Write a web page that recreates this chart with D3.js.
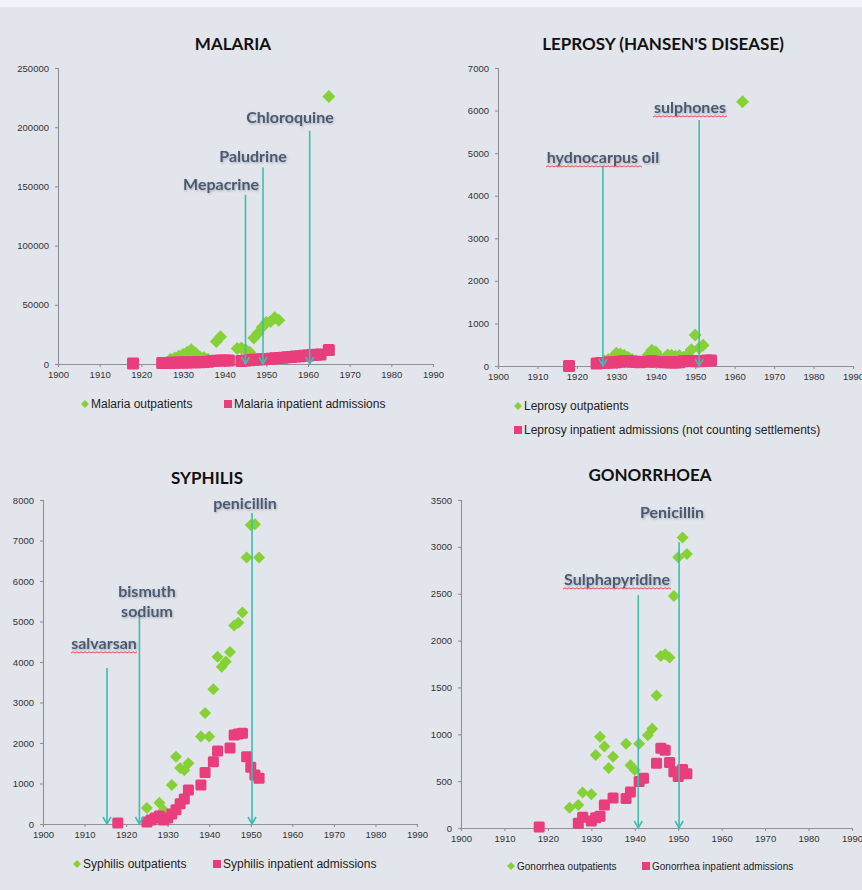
<!DOCTYPE html>
<html>
<head>
<meta charset="utf-8">
<script src="https://cdn.jsdelivr.net/npm/d3@7"></script>
<style>
  body { margin: 0; background: #e3e5ec; }
  svg { display: block; }
  .tick text { font-family: "Liberation Sans", Arial, sans-serif; fill: #333; }
</style>
</head>
<body>
<div id="chart"></div>
<script>
// ---- data ----
const decades = [1900, 1910, 1920, 1930, 1940, 1950, 1960, 1970, 1980, 1990];

// Malaria
const malariaOutYears = [1927, 1928, 1929, 1930, 1931, 1932, 1933, 1934, 1935, 1936, 1938, 1939, 1943, 1944, 1945, 1946, 1947, 1948, 1949, 1950, 1951, 1952, 1953, 1965];
const malariaOut = [4000, 5000, 6500, 8000, 10000, 12000, 9000, 6000, 5500, 4000, 19000, 23000, 13000, 13500, 12000, 10000, 22000, 26000, 31000, 35000, 36000, 39000, 37000, 226000];
const malariaInYears = [1918, 1925, 1926, 1927, 1928, 1929, 1930, 1931, 1932, 1933, 1934, 1935, 1936, 1937, 1938, 1939, 1940, 1941,
  1944, 1945, 1946, 1947, 1948, 1949, 1950, 1951, 1952, 1953, 1954, 1955, 1956, 1957, 1958, 1959, 1960, 1961, 1962, 1963, 1965];
const malariaIn = [500, 800, 900, 1000, 1100, 1200, 1200, 1300, 1400, 1500, 1500, 1600, 1800, 2500, 2800, 3000, 3000, 3000,
  2500, 3000, 3200, 3500, 3800, 4000, 4200, 4500, 4800, 5000, 5300, 5600, 6000, 6300, 6600, 7000, 7200, 7500, 7800, 8000, 11800];
const malariaDrugs = ["Mepacrine", "Paludrine", "Chloroquine"];
const malariaDrugYears = [1945, 1949.2, 1960.4];
const malariaDrugTops = [143000, 166000, 197000];

// Leprosy
const leprosyOutYears = [1927, 1928, 1929, 1930, 1931, 1932, 1933, 1934, 1935, 1938, 1939, 1940, 1941, 1943, 1944, 1945, 1946, 1947, 1948, 1949, 1950, 1951, 1952, 1962];
const leprosyOut = [120, 150, 180, 300, 280, 250, 200, 150, 120, 250, 370, 330, 200, 260, 250, 230, 240, 200, 260, 380, 730, 420, 490, 6210];
const leprosyInYears = [1918, 1925, 1926, 1927, 1928, 1929, 1930, 1931, 1932, 1933, 1934, 1935, 1936, 1938, 1939, 1940,
  1942, 1943, 1944, 1945, 1946, 1947, 1948, 1949, 1950, 1951, 1952, 1953, 1954];
const leprosyIn = [0, 60, 70, 70, 80, 80, 90, 100, 110, 110, 100, 100, 90, 100, 110, 100,
  90, 90, 80, 80, 90, 110, 120, 120, 110, 110, 120, 130, 130];
const leprosyDrugs = ["hydnocarpus oil", "sulphones"];
const leprosyDrugYears = [1926.6, 1951];
const leprosyDrugTops = [4700, 5780];

// Syphilis
const syphilisOutYears = [1925, 1928, 1929, 1931, 1932, 1933, 1934, 1935, 1938, 1939, 1940, 1941, 1942, 1943, 1944, 1945, 1946, 1947, 1948, 1949, 1950, 1951, 1952];
const syphilisOut = [395, 525, 345, 960, 1660, 1380, 1330, 1500, 2160, 2740, 2160, 3330, 4130, 3880, 4010, 4250, 4900, 4970, 5220, 6580, 7380, 7400, 6580];
const syphilisInYears = [1918, 1925, 1926, 1927, 1928, 1929, 1930, 1931, 1932, 1933, 1934, 1935, 1938, 1939, 1941, 1942, 1945, 1946, 1947, 1948, 1949, 1950, 1951, 1952];
const syphilisIn = [25, 50, 100, 150, 200, 100, 150, 250, 350, 500, 620, 840, 960, 1270, 1540, 1800, 1875, 2200, 2220, 2240, 1660, 1400, 1210, 1130];
const syphilisDrugs = ["salvarsan", "bismuth sodium", "penicillin"];
const syphilisDrugYears = [1915.4, 1923.2, 1950.3];
const syphilisDrugTops = [3850, 5200, 7680];

// Gonorrhoea
const gonorrhoeaOutYears = [1925, 1927, 1928, 1930, 1931, 1932, 1933, 1934, 1935, 1938, 1939, 1940, 1941, 1943, 1944, 1945, 1946, 1947, 1948, 1949, 1950, 1951, 1952];
const gonorrhoeaOut = [215, 245, 380, 360, 780, 975, 870, 640, 760, 900, 670, 620, 900, 990, 1060, 1415, 1835, 1855, 1820, 2475, 2890, 3100, 2925];
const gonorrhoeaInYears = [1918, 1927, 1928, 1930, 1931, 1932, 1933, 1935, 1938, 1939, 1941, 1942, 1945, 1946, 1947, 1948, 1949, 1950, 1951, 1952];
const gonorrhoeaIn = [10, 50, 115, 75, 110, 125, 245, 320, 315, 385, 495, 530, 690, 850, 830, 700, 600, 550, 625, 580];
const gonorrhoeaDrugs = ["Sulphapyridine", "Penicillin"];
const gonorrhoeaDrugYears = [1940.8, 1950.2];
const gonorrhoeaDrugTops = [2485, 3050];

// ---- layout ----
const W = 862, H = 890;
const GREEN = "#86d136", PINK = "#e93d7c", TEAL = "#3fbdaf", LABEL = "#4a5a72";

const svg = d3.select("#chart").append("svg")
  .attr("width", W).attr("height", H);

// white strip at very top
svg.append("rect").attr("width", W).attr("height", 7).attr("fill", "#f4f5f8");

const defs = svg.append("defs");
const shadow = defs.append("filter").attr("id", "shadow").attr("x", "-10%").attr("y", "-20%").attr("width", "130%").attr("height", "160%");
shadow.append("feDropShadow").attr("dx", 1).attr("dy", 1.2).attr("stdDeviation", 0.8)
  .attr("flood-color", "#000").attr("flood-opacity", 0.25);

function zip(xs, ys) { return xs.map((x, i) => ({ year: x, value: ys[i] })); }

function wavy(g, x0, x1, y) {
  let d = `M${x0},${y}`;
  let up = true;
  for (let x = x0 + 2; x <= x1; x += 2) { d += `L${x},${y + (up ? -1.2 : 0)}`; up = !up; }
  g.append("path").attr("d", d).attr("fill", "none").attr("stroke", "#e33b3b").attr("stroke-width", 0.9);
}

function panel(p) {
  const x = d3.scaleLinear().domain([1900, 1990]).range([p.x0, p.x1]);
  const y = d3.scaleLinear().domain([0, p.ymax]).range([p.yZero, p.yTop]);
  const g = svg.append("g");

  g.append("text")
    .attr("x", p.titleX).attr("y", p.titleY)
    .attr("text-anchor", "middle")
    .style("font", "bold 17px Lato, 'Open Sans', sans-serif")
    .attr("fill", "#111")
    .text(p.title);

  const yAxis = g.append("g")
    .attr("transform", `translate(${p.x0},0)`)
    .call(d3.axisLeft(y).tickValues(d3.range(0, p.ymax + 1, p.ystep)).tickFormat(d3.format("d")).tickSize(3).tickPadding(6));
  yAxis.selectAll("text").style("font-size", "9.5px");
  const xAxis = g.append("g")
    .attr("transform", `translate(0,${p.yZero})`)
    .call(d3.axisBottom(x).tickValues(decades).tickFormat(d3.format("d")).tickSize(3).tickPadding(4));
  xAxis.selectAll("text").style("font-size", "9.5px");
  g.selectAll(".domain, .tick line").attr("stroke", "#8f9197").attr("stroke-width", 1.1);

  // outpatient diamonds
  const dm = p.dm;
  g.append("g").selectAll("path")
    .data(p.outData).join("path")
    .attr("transform", d => `translate(${x(d.year)},${y(d.value)})`)
    .attr("d", `M0,${-dm}L${dm},0L0,${dm}L${-dm},0Z`)
    .attr("fill", GREEN);

  // inpatient squares
  const s = p.sq;
  g.append("g").selectAll("rect")
    .data(p.inData).join("rect")
    .attr("x", d => x(d.year) - s / 2)
    .attr("y", d => y(d.value) - s / 2)
    .attr("width", s).attr("height", s).attr("rx", 1.5)
    .attr("fill", PINK);

  // drug arrows
  p.drugs.forEach((name, i) => {
    const ax = x(p.drugYears[i]);
    const ay = y(p.drugTops[i]);
    g.append("line")
      .attr("x1", ax).attr("x2", ax).attr("y1", ay).attr("y2", p.yZero)
      .attr("stroke", TEAL).attr("stroke-width", 1.6);
    g.append("path")
      .attr("d", `M${ax - 4},${p.yZero - 7}L${ax},${p.yZero}L${ax + 4},${p.yZero - 7}`)
      .attr("fill", "none").attr("stroke", TEAL).attr("stroke-width", 1.6);
    const lab = p.labels[i];
    const lines = lab.lines || [name];
    lines.forEach((ln, j) => {
      g.append("text")
        .attr("x", lab.x).attr("y", lab.y + j * 20)
        .attr("text-anchor", "middle")
        .attr("filter", "url(#shadow)")
        .style("font", "bold 16px Lato, 'Open Sans', sans-serif")
        .attr("fill", LABEL)
        .text(ln);
    });
    if (lab.wavy) wavy(g, lab.wavy[0], lab.wavy[1], lab.y + 4);
  });

  // legend
  p.legend.forEach((L, i) => {
    if (i === 0) {
      g.append("path")
        .attr("transform", `translate(${L.x},${L.y})`)
        .attr("d", "M0,-4L4,0L0,4L-4,0Z").attr("fill", GREEN);
    } else {
      g.append("rect").attr("x", L.x - 4).attr("y", L.y - 4).attr("width", 8).attr("height", 8).attr("fill", PINK);
    }
    g.append("text")
      .attr("x", L.x + 6).attr("y", L.y + 4)
      .style("font", `${p.legendSize}px 'Liberation Sans', Arial, sans-serif`)
      .attr("fill", "#222")
      .text(L.text);
  });
}

panel({
  title: "MALARIA", titleX: 233, titleY: 50,
  x0: 58, x1: 433, yTop: 68, yZero: 364, ymax: 250000, ystep: 50000,
  outData: zip(malariaOutYears, malariaOut), inData: zip(malariaInYears, malariaIn),
  sq: 12, dm: 6.5,
  drugs: malariaDrugs, drugYears: malariaDrugYears, drugTops: malariaDrugTops,
  labels: [{ x: 221, y: 190 }, { x: 253, y: 162 }, { x: 290, y: 123 }],
  legend: [{ x: 85, y: 404, text: "Malaria outpatients" }, { x: 228, y: 404, text: "Malaria inpatient admissions" }],
  legendSize: 12
});

panel({
  title: "LEPROSY (HANSEN'S DISEASE)", titleX: 663, titleY: 50,
  x0: 498, x1: 853, yTop: 68, yZero: 366, ymax: 7000, ystep: 1000,
  outData: zip(leprosyOutYears, leprosyOut), inData: zip(leprosyInYears, leprosyIn),
  sq: 12, dm: 6.5,
  drugs: leprosyDrugs, drugYears: leprosyDrugYears, drugTops: leprosyDrugTops,
  labels: [{ x: 603, y: 163, wavy: [546, 642] }, { x: 690, y: 113, wavy: [653, 727] }],
  legend: [{ x: 518, y: 406, text: "Leprosy outpatients" }, { x: 518, y: 430, text: "Leprosy inpatient admissions (not counting settlements)" }],
  legendSize: 12
});

panel({
  title: "SYPHILIS", titleX: 207, titleY: 484,
  x0: 43, x1: 417, yTop: 500, yZero: 824, ymax: 8000, ystep: 1000,
  outData: zip(syphilisOutYears, syphilisOut), inData: zip(syphilisInYears, syphilisIn),
  sq: 11, dm: 6,
  drugs: syphilisDrugs, drugYears: syphilisDrugYears, drugTops: syphilisDrugTops,
  labels: [{ x: 104, y: 649, wavy: [71, 137] }, { x: 147, y: 597, lines: ["bismuth", "sodium"] }, { x: 245, y: 509 }],
  legend: [{ x: 77, y: 864, text: "Syphilis outpatients" }, { x: 217, y: 864, text: "Syphilis inpatient admissions" }],
  legendSize: 12
});

panel({
  title: "GONORRHOEA", titleX: 650, titleY: 481,
  x0: 461, x1: 852, yTop: 500, yZero: 828, ymax: 3500, ystep: 500,
  outData: zip(gonorrhoeaOutYears, gonorrhoeaOut), inData: zip(gonorrhoeaInYears, gonorrhoeaIn),
  sq: 11, dm: 6,
  drugs: gonorrhoeaDrugs, drugYears: gonorrhoeaDrugYears, drugTops: gonorrhoeaDrugTops,
  labels: [{ x: 617, y: 585, wavy: [563, 672] }, { x: 672, y: 518 }],
  legend: [{ x: 511, y: 866, text: "Gonorrhea outpatients" }, { x: 646, y: 866, text: "Gonorrhea inpatient admissions" }],
  legendSize: 10
});
</script>
</body>
</html>
